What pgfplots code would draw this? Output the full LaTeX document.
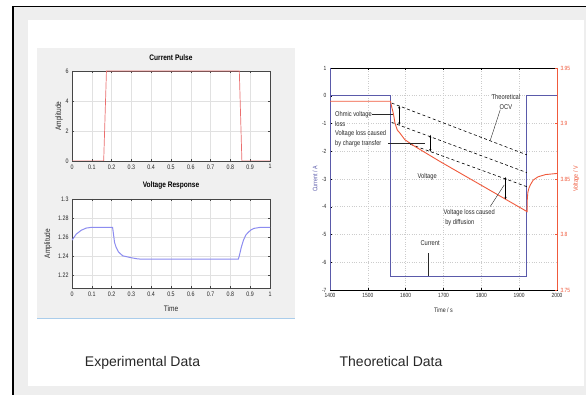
\documentclass[border=0pt]{standalone}
\usepackage{pgfplots}
\pgfplotsset{compat=1.18}
\usepackage{fontspec}
\setmainfont{Liberation Sans}
\newfontfamily\narrow[FakeStretch=0.82]{Liberation Sans}
\usetikzlibrary{arrows.meta}
\definecolor{bggrey}{RGB}{238,238,238}
\definecolor{matgrey}{RGB}{240,240,240}
\definecolor{lightblue}{RGB}{170,205,235}
\definecolor{pulsered}{RGB}{235,110,110}
\definecolor{resplav}{RGB}{140,140,240}
\definecolor{curblue}{RGB}{90,90,170}
\definecolor{voltred}{RGB}{240,90,60}
\definecolor{axgrey}{RGB}{70,70,70}
\definecolor{gridgrey}{RGB}{225,225,225}
\definecolor{txtgrey}{RGB}{40,40,40}

\pgfplotsset{
  matlab/.style={
    scale only axis, anchor=south west,
    axis background/.style={fill=white},
    axis line style={axgrey, line width=0.5pt},
    tick style={axgrey, line width=0.4pt},
    tick align=inside, major tick length=2pt,
    grid=major, major grid style={gridgrey, line width=0.4pt},
    /pgf/number format/assume math mode=true,
    ticklabel style={font=\narrow\fontsize{6.5}{7}\selectfont, text=txtgrey},
    title style={font=\narrow\bfseries\fontsize{8}{9}\selectfont, at={(0.5,1)}, anchor=south, yshift=0.5pt},
    label style={font=\narrow\fontsize{8}{9}\selectfont, text=txtgrey},
    xmin=0, xmax=1,
    xtick={0,0.1,0.2,0.3,0.4,0.5,0.6,0.7,0.8,0.9,1},
    xticklabels={0,0.1,0.2,0.3,0.4,0.5,0.6,0.7,0.8,0.9,1},
  }
}

\begin{document}
\begin{tikzpicture}
\path[use as bounding box] (0pt,0pt) rectangle (586pt,395pt);
\fill[white] (0pt,0pt) rectangle (586pt,395pt);
\fill[bggrey] (13pt,0pt) rectangle (586pt,388.5pt);
\draw[black, line width=1.5pt] (13pt,0pt) -- (13pt,388.5pt) -- (586pt,388.5pt);
\fill[white] (28pt,9pt) rectangle (584pt,375pt);
\fill[matgrey] (37pt,77pt) rectangle (295pt,347pt);
\draw[lightblue, line width=0.8pt] (37pt,77pt) -- (295pt,77pt);

% ---------- Current Pulse ----------
\begin{axis}[matlab, at={(72pt,234pt)}, width=198pt, height=90pt,
  ymin=0, ymax=6, ytick={0,2,4,6},
  title={Current Pulse}, ylabel={Amplitude},
  ylabel style={at={(axis description cs:-0.066,0.5)}, anchor=center}]
\addplot[pulsered, line width=0.7pt] coordinates {
 (0,0) (0.16,0) (0.174,6) (0.845,6) (0.858,0) (1,0)};
\end{axis}

% ---------- Voltage Response ----------
\begin{axis}[matlab, at={(72pt,107pt)}, width=198pt, height=89pt,
  ymin=1.206, ymax=1.3, ytick={1.22,1.24,1.26,1.28,1.3},
  yticklabels={1.22,1.24,1.26,1.28,1.3},
  title={Voltage Response}, ylabel={Amplitude}, xlabel={Time},
  ylabel style={at={(axis description cs:-0.121,0.5)}, anchor=center},
  xlabel style={at={(axis description cs:0.5,0)}, anchor=center, yshift=-21pt}]
\addplot[resplav, line width=1pt] coordinates {
 (0,1.2565) (0.022,1.263) (0.047,1.267) (0.072,1.2693) (0.097,1.27)
 (0.205,1.27) (0.21,1.262) (0.215,1.254) (0.222,1.2495) (0.235,1.244)
 (0.256,1.240) (0.298,1.238) (0.33,1.2368) (0.348,1.2365) (0.84,1.2365)
 (0.845,1.240) (0.855,1.249) (0.866,1.2565) (0.878,1.262) (0.891,1.265)
 (0.905,1.2675) (0.92,1.269) (0.95,1.27) (1,1.27)};
\end{axis}

% ---------- Theoretical: current axis ----------
\begin{axis}[scale only axis, anchor=south west, at={(330pt,105pt)},
  width=227pt, height=222pt,
  xmin=1400, xmax=2000, ymin=-7, ymax=1,
  xtick={1400,1500,1600,1700,1800,1900,2000},
  ytick={-7,-6,-5,-4,-3,-2,-1,0,1},
  xtick pos=both, ytick pos=left,
  tick align=inside, major tick length=2pt,
  axis line style={black, line width=0.9pt},
  tick style={black, line width=0.4pt},
  grid=major, major grid style={gray!40, dotted, line width=0.5pt},
  /pgf/number format/1000 sep={},
  /pgf/number format/assume math mode=true,
  ticklabel style={font=\narrow\fontsize{6}{7}\selectfont, text=txtgrey},
  xlabel={Time / s}, ylabel={Current / A},
  xlabel style={font=\narrow\fontsize{6.5}{7}\selectfont, text=txtgrey,
    at={(axis description cs:0.5,0)}, anchor=center, yshift=-20pt},
  ylabel style={font=\narrow\fontsize{6.5}{7}\selectfont, text=curblue,
    at={(axis description cs:-0.066,0.5)}, anchor=center}]
\addplot[curblue, line width=0.8pt] coordinates {
 (1400,0) (1560,0) (1560,-6.5) (1920,-6.5) (1920,0) (2000,0)};
\draw[curblue, line width=1pt] (rel axis cs:0,0) -- (rel axis cs:0,1);
\end{axis}

% ---------- Theoretical: voltage axis ----------
\begin{axis}[scale only axis, anchor=south west, at={(330pt,105pt)},
  width=227pt, height=222pt,
  xmin=1400, xmax=2000, ymin=3.75, ymax=3.95,
  axis x line=none, axis y line*=right,
  ytick={3.75,3.8,3.85,3.9,3.95},
  yticklabels={3.75,3.8,3.85,3.9,3.95},
  tick align=inside, major tick length=2pt,
  axis line style={voltred, line width=0.9pt},
  tick style={voltred, line width=0.4pt},
  /pgf/number format/assume math mode=true,
  ticklabel style={font=\narrow\fontsize{6}{7}\selectfont, text=voltred},
  ylabel={Voltage / V},
  ylabel style={font=\narrow\fontsize{6.5}{7}\selectfont, text=voltred,
    at={(axis description cs:1.084,0.5)}, anchor=center},
  clip=false]
% theoretical lines
\addplot[black, dash pattern=on 3pt off 2.5pt, line width=0.6pt] coordinates {(1563,3.9184) (1920,3.8718)};
\addplot[black, dash pattern=on 3pt off 2.5pt, line width=0.6pt] coordinates {(1563,3.901) (1920,3.8558)};
\addplot[black, dash pattern=on 3pt off 2.5pt, line width=0.6pt] coordinates {(1612,3.8813) (1920,3.8431)};
% voltage
\addplot[voltred, line width=0.9pt] coordinates {
 (1400,3.920) (1560,3.920) (1563,3.915) (1566,3.911) (1568,3.908)
 (1572,3.900) (1578,3.894) (1585,3.8913) (1598,3.8853) (1625,3.8792)
 (1691,3.8657) (1921,3.8206) (1921.5,3.832) (1923,3.838) (1926,3.842)
 (1930,3.845) (1937,3.849) (1950,3.852) (1970,3.854) (2000,3.855)};
% double arrows
\draw[black, line width=0.5pt, {Stealth[length=2.5pt,width=2.2pt]}-{Stealth[length=2.5pt,width=2.2pt]}]
  (axis cs:1583,3.9158) -- (axis cs:1583,3.8988);
\draw[black, line width=0.5pt, {Stealth[length=2.5pt,width=2.2pt]}-{Stealth[length=2.5pt,width=2.2pt]}]
  (axis cs:1665,3.8897) -- (axis cs:1665,3.8747);
\draw[black, line width=0.5pt, {Stealth[length=2.5pt,width=2.2pt]}-{Stealth[length=2.5pt,width=2.2pt]}]
  (axis cs:1864,3.8516) -- (axis cs:1864,3.8317);
% leader lines
\draw[txtgrey, line width=0.4pt] (axis cs:1850,3.9124) -- (axis cs:1823.5,3.8847);
\draw[txtgrey, line width=0.4pt] (axis cs:1511,3.9085) -- (axis cs:1567,3.9085);
\draw[txtgrey, line width=0.4pt] (axis cs:1553.5,3.8825) -- (axis cs:1651.5,3.8825);
\draw[txtgrey, line width=0.4pt] (axis cs:1823.5,3.8252) -- (axis cs:1860.6,3.8447);
\draw[txtgrey, line width=0.4pt] (axis cs:1660,3.7831) -- (axis cs:1660,3.7625);
% labels
\node[font=\narrow\fontsize{7}{10}\selectfont, text=txtgrey, align=center, anchor=north, inner sep=0pt]
  at (axis cs:1865,3.9266) {Theoretical\\OCV};
\node[font=\narrow\fontsize{7}{9.7}\selectfont, text=txtgrey, align=left, anchor=north west, inner sep=0pt]
  at (axis cs:1413,3.911) {Ohmic voltage\\loss\\Voltage loss caused\\by charge transfer};
\node[font=\narrow\fontsize{7}{9}\selectfont, text=txtgrey, inner sep=0pt]
  at (axis cs:1656.7,3.8522) {Voltage};
\node[font=\narrow\fontsize{7}{10}\selectfont, text=txtgrey, align=left, anchor=north west, inner sep=0pt]
  at (axis cs:1700,3.8229) {Voltage loss caused\\\ by diffusion};
\node[font=\narrow\fontsize{7}{9}\selectfont, text=txtgrey, inner sep=0pt]
  at (axis cs:1664.7,3.7921) {Current};
\end{axis}

% captions
\node[font=\fontsize{14}{16}\selectfont, text=txtgrey, anchor=base] at (142.5pt,28.3pt) {Experimental Data};
\node[font=\fontsize{14}{16}\selectfont, text=txtgrey, anchor=base] at (391pt,28.3pt) {Theoretical Data};
\end{tikzpicture}
\end{document}
